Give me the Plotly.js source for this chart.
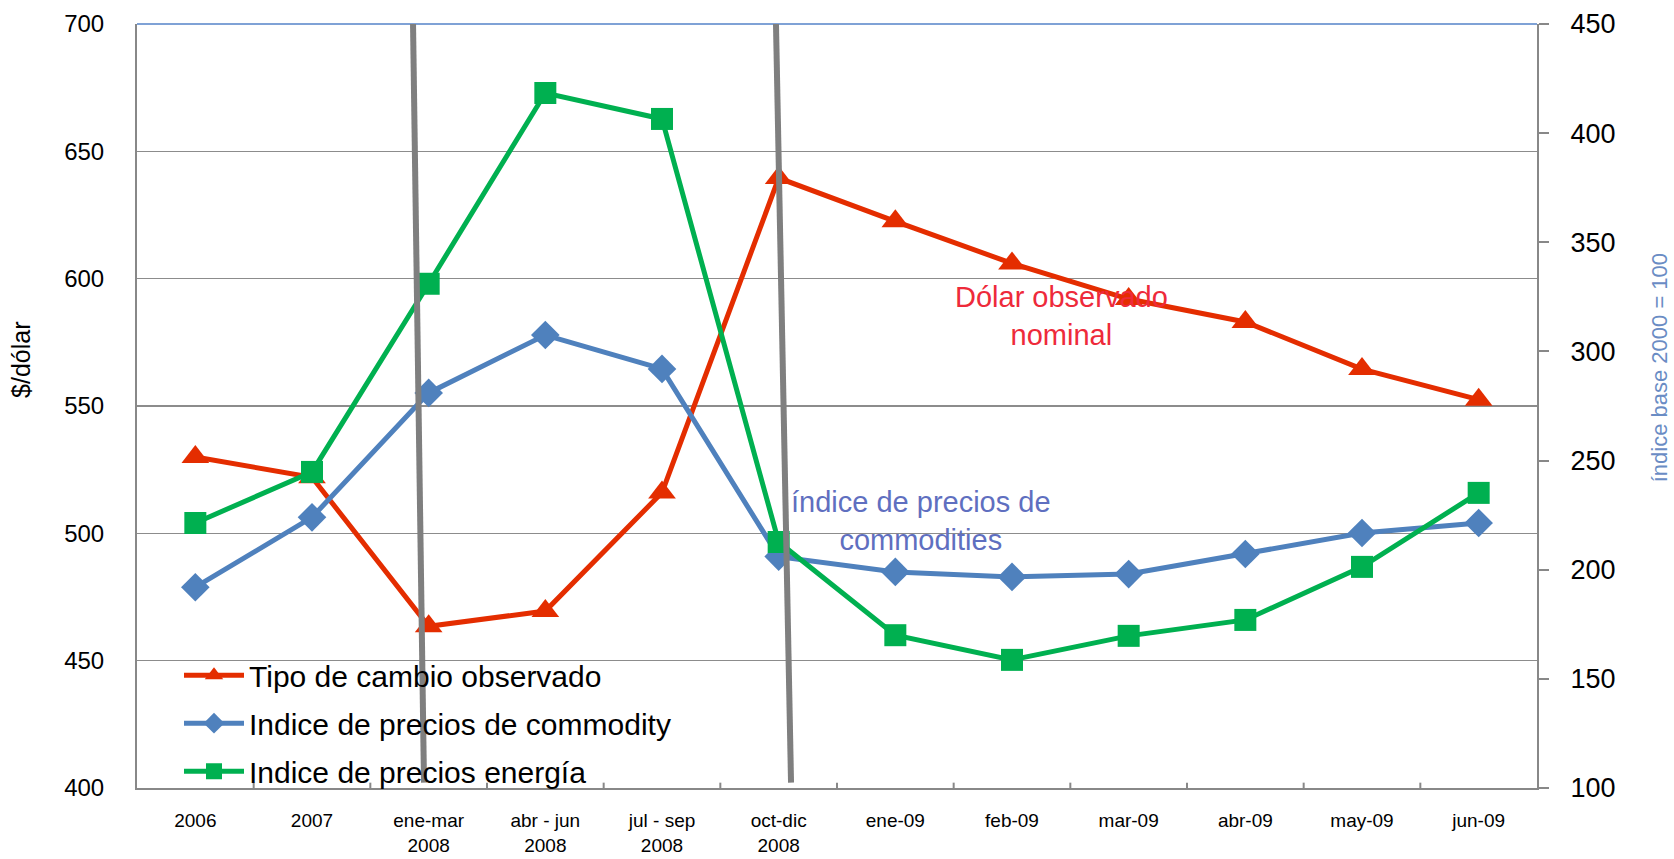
<!DOCTYPE html>
<html>
<head>
<meta charset="utf-8">
<script src="https://cdn.plot.ly/plotly-3.0.1.min.js"></script>
<style>
html, body { margin: 0; padding: 0; background: #ffffff; }
#chart { width: 1674px; height: 859px; }
</style>
</head>
<body>
<div id="chart"></div>
<script>
// ---- data ----
const categories = ["2006", "2007", "ene-mar<br>2008", "abr - jun<br>2008", "jul - sep<br>2008", "oct-dic<br>2008",
  "ene-09", "feb-09", "mar-09", "abr-09", "may-09", "jun-09"];
const tipoCambio = [530, 522, 463.5, 469.5, 516, 639.5, 622.5, 606, 592, 583, 564.5, 552.5];
const indiceCommodity = [192, 224, 281, 307.5, 292, 206, 199, 196.7, 198, 207.2, 216.8, 221.4];
const indiceEnergia = [221.4, 244.8, 331, 418.4, 406.5, 212.7, 170, 158.7, 169.7, 177, 201.3, 235.2];
const seriesNames = ["Tipo de cambio observado", "Indice de precios de commodity", "Indice de precios energía"];
const leftTicks = [400, 450, 500, 550, 600, 650, 700];
const rightTicks = [100, 150, 200, 250, 300, 350, 400, 450];

const FONT = "Liberation Sans, Arial, sans-serif";
const idx = categories.map((c, i) => i);

const traces = [
  {
    x: idx, y: tipoCambio, name: seriesNames[0], type: "scatter", mode: "lines+markers",
    yaxis: "y", legendgroup: "a",
    line: { color: "#E42D00", width: 5 },
    marker: { symbol: "triangle-up", size: 24, color: "#E42D00" }
  },
  {
    x: idx, y: indiceCommodity, name: seriesNames[1], type: "scatter", mode: "lines+markers",
    yaxis: "y2", legendgroup: "b",
    line: { color: "#4F81BD", width: 5 },
    marker: { symbol: "diamond", size: 22, color: "#4F81BD" }
  },
  {
    x: idx, y: indiceEnergia, name: seriesNames[2], type: "scatter", mode: "lines+markers",
    yaxis: "y2", legendgroup: "c",
    line: { color: "#00B050", width: 5 },
    marker: { symbol: "square", size: 22, color: "#00B050" }
  }
];

const layout = {
  width: 1674, height: 859,
  margin: { l: 137, r: 137, t: 24, b: 71 },
  paper_bgcolor: "#ffffff", plot_bgcolor: "#ffffff",
  font: { family: FONT, color: "#000000" },
  showlegend: true,
  legend: {
    x: 0.03, y: -0.012, xanchor: "left", yanchor: "bottom",
    bgcolor: "rgba(0,0,0,0)", font: { family: FONT, size: 30, color: "#000000" },
    traceorder: "grouped", tracegroupgap: 6, itemwidth: 60
  },
  xaxis: {
    type: "linear", range: [-0.5, 11.5],
    tickmode: "array", tickvals: idx, ticktext: categories,
    showgrid: false, zeroline: false,
    showline: true, linecolor: "#888888", linewidth: 2,
    ticks: "", tickfont: { family: FONT, size: 19, color: "#000000" },
    ticklabelstandoff: 14
  },
  yaxis: {
    range: [400, 700], tickvals: leftTicks, ticktext: leftTicks.map(String),
    showgrid: true, gridcolor: "#8C8C8C", gridwidth: 1.5,
    showline: true, linecolor: "#888888", linewidth: 2, zeroline: false,
    ticks: "", tickfont: { family: FONT, size: 24, color: "#000000" },
    ticklabelstandoff: 26
  },
  yaxis2: {
    overlaying: "y", side: "right",
    range: [100, 450], tickvals: rightTicks, ticktext: rightTicks.map(String),
    showgrid: false, zeroline: false,
    showline: true, linecolor: "#888888", linewidth: 2,
    ticks: "outside", ticklen: 10, tickwidth: 2, tickcolor: "#888888",
    tickfont: { family: FONT, size: 27, color: "#000000" },
    ticklabelstandoff: 16
  },
  shapes: [
    // tick marks between categories (inside, upward)
    ...[0.5, 1.5, 2.5, 3.5, 4.5, 5.5, 6.5, 7.5, 8.5, 9.5, 10.5].map(v => ({
      type: "line", xref: "x", yref: "paper", x0: v, x1: v, y0: 0, y1: 0.007,
      line: { color: "#888888", width: 2 }
    })),
    // top border
    { type: "line", xref: "paper", yref: "paper", x0: 0, x1: 1, y0: 1, y1: 1,
      line: { color: "#7FA2D6", width: 2 } },
    // vertical crisis markers
    { type: "line", xref: "x", yref: "paper", x0: 1.866, x1: 1.96, y0: 1, y1: 0.007,
      line: { color: "#7F7F7F", width: 6 } },
    { type: "line", xref: "x", yref: "paper", x0: 4.977, x1: 5.106, y0: 1, y1: 0.007,
      line: { color: "#7F7F7F", width: 6 } }
  ],
  annotations: [
    { text: "$/dólar", xref: "paper", yref: "paper", x: -0.083, y: 0.56,
      xanchor: "center", yanchor: "middle", textangle: -90, showarrow: false,
      font: { family: FONT, size: 25, color: "#000000" } },
    { text: "índice base 2000 = 100", xref: "paper", yref: "paper", x: 1.0875, y: 0.55,
      xanchor: "center", yanchor: "middle", textangle: -90, showarrow: false,
      font: { family: FONT, size: 22, color: "#6A8CC4" } },
    { text: "Dólar observado<br>nominal", xref: "x", yref: "y", x: 7.42, y: 585.5,
      xanchor: "center", yanchor: "middle", showarrow: false,
      font: { family: FONT, size: 29, color: "#EE2A3A" } },
    { text: "índice de precios de<br>commodities", xref: "x", yref: "y", x: 6.22, y: 505,
      xanchor: "center", yanchor: "middle", showarrow: false,
      font: { family: FONT, size: 29, color: "#5F6FC0" } }
  ]
};

Plotly.newPlot("chart", traces, layout, { displayModeBar: false, staticPlot: true });
</script>
</body>
</html>
